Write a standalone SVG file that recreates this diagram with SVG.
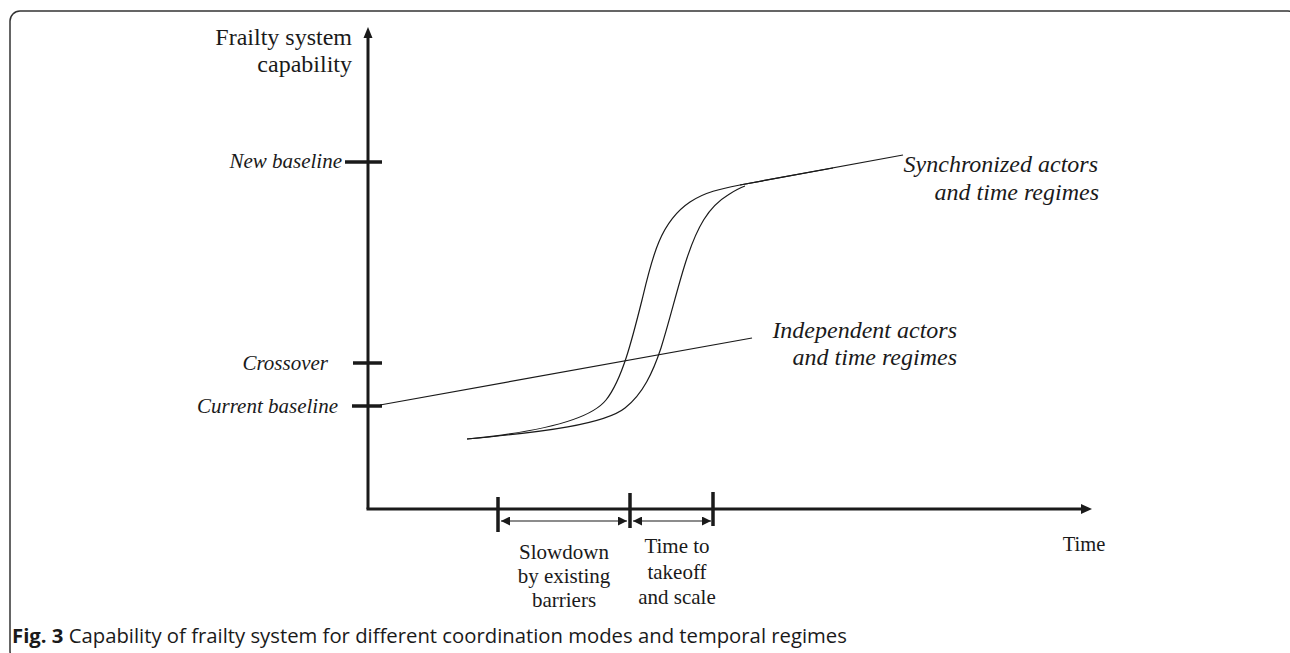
<svg xmlns="http://www.w3.org/2000/svg" width="1290" height="653" viewBox="0 0 1290 653">
<defs>
<style>
.lbl{font-family:"Liberation Serif","Times New Roman",serif;fill:#1a1a1a}
.it{font-style:italic}
.ax{stroke:#1a1a1a;stroke-width:3;fill:none}
.tk{stroke:#1a1a1a;stroke-width:3.5;fill:none}
.cv{stroke:#1a1a1a;stroke-width:1.2;fill:none}
.dim{stroke:#1a1a1a;stroke-width:1.2;fill:none;marker-start:url(#ah);marker-end:url(#ah)}
.cap{font-family:"Open Sans","Liberation Sans",sans-serif;fill:#1a1a1a;font-size:20.3px}
</style>
<marker id="ah" viewBox="0 0 10 10" refX="10" refY="5" markerWidth="11" markerHeight="9" markerUnits="userSpaceOnUse" orient="auto-start-reverse">
<path d="M0,0 L10,5 L0,10 Z" fill="#1a1a1a"/>
</marker>
</defs>
<rect x="10" y="11" width="1288" height="650" rx="10" fill="#fff" stroke="#333" stroke-width="1.5"/>

<g id="axes">
<line class="ax" x1="368" y1="36" x2="368" y2="509"/>
<path d="M368,27 L372.5,38 L363.5,38 Z" fill="#1a1a1a"/>
<line class="ax" x1="366.5" y1="509" x2="1082" y2="509"/>
<path d="M1092,509 L1081,504 L1081,514 Z" fill="#1a1a1a"/>
<text class="lbl" x="352" y="45" font-size="24" text-anchor="end">Frailty system</text>
<text class="lbl" x="352" y="72" font-size="24" text-anchor="end">capability</text>
<text class="lbl" x="1084" y="551" font-size="20.5" text-anchor="middle">Time</text>
</g>

<g id="tick-new-baseline">
<line class="tk" x1="345" y1="162" x2="382" y2="162"/>
<text class="lbl it" x="342" y="168" font-size="21" text-anchor="end">New baseline</text>
</g>
<g id="tick-crossover">
<line class="tk" x1="353" y1="363" x2="382" y2="363"/>
<text class="lbl it" x="328" y="370" font-size="21" text-anchor="end">Crossover</text>
</g>
<g id="tick-current-baseline">
<line class="tk" x1="352" y1="406" x2="382" y2="406"/>
<text class="lbl it" x="338" y="413" font-size="21" text-anchor="end">Current baseline</text>
</g>

<g id="independent">
<text class="lbl it" x="957" y="338" font-size="24" text-anchor="end">Independent actors</text>
<text class="lbl it" x="957" y="365" font-size="24" text-anchor="end">and time regimes</text>
</g>
<g id="synchronized">
<text class="lbl it" x="1098" y="172" font-size="24" text-anchor="end">Synchronized actors</text>
<text class="lbl it" x="1099" y="200" font-size="24" text-anchor="end">and time regimes</text>
</g>

<g id="time-ticks">
<line class="tk" x1="498" y1="497" x2="498" y2="532"/>
<line class="tk" x1="630" y1="493" x2="630" y2="528"/>
<line class="tk" x1="713" y1="492" x2="713" y2="526"/>
</g>

<g id="slowdown">
<text class="lbl" x="564" y="559" font-size="21" text-anchor="middle">Slowdown</text>
<text class="lbl" x="564" y="583" font-size="21" text-anchor="middle">by existing</text>
<text class="lbl" x="564" y="607" font-size="21" text-anchor="middle">barriers</text>
</g>
<g id="takeoff">
<text class="lbl" x="677" y="553" font-size="21" text-anchor="middle">Time to</text>
<text class="lbl" x="677" y="579" font-size="21" text-anchor="middle">takeoff</text>
<text class="lbl" x="677" y="604" font-size="21" text-anchor="middle">and scale</text>
</g>

<g id="connectors">
<line class="cv" x1="380" y1="405" x2="752" y2="338"/>
<path class="cv" d="M467,439 C540,432 590,420 606,400 C622,380 632,340 642,300 C652,258 660,222 690,202 C705,192 720,189 740,185 L833,168"/>
<path class="cv" d="M467,439 C545,432 605,424 625,408 C643,394 653,372 661,348 C671,316 678,285 687,258 C697,228 708,207 728,195 C734,191 739,188 745,186"/>
<line class="cv" x1="740" y1="185" x2="903" y2="155"/>
<line class="dim" x1="501" y1="521" x2="627" y2="521"/>
<line class="dim" x1="633" y1="521" x2="711" y2="521"/>
</g>

<text class="cap" x="12" y="643"><tspan font-weight="bold">Fig. 3</tspan> Capability of frailty system for different coordination modes and temporal regimes</text>
</svg>
